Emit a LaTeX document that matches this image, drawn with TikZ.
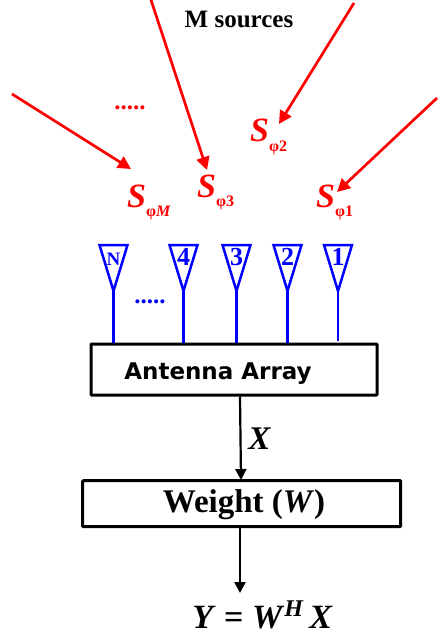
\documentclass[tikz,border=0pt]{standalone}
\usepackage{fontspec}
\setmainfont{Liberation Serif}
\newfontfamily\boxfont{DejaVu Sans}
\usetikzlibrary{arrows.meta}
\newcommand{\srclabel}[1]{\fontsize{34}{34}\selectfont\textbf{\textit{S}}\raisebox{-9.5pt}{\fontsize{16}{16}\selectfont\textbf{φ#1}}}
\tikzset{
  source/.style={draw=red,line width=2.7pt,-{Triangle[length=13pt,width=13pt]}},
  element/.style={draw=blue,line width=2.5pt,line join=miter},
  block/.style={draw,line width=3pt,rounded corners=0.8pt,inner sep=0pt},
  signal/.style={draw,line width=2.2pt,-{Triangle[length=11pt,width=11pt]}},
  lbl/.style={inner sep=0pt,anchor=base}
}
\begin{document}
\begin{tikzpicture}[x=1pt,y=-1pt]
  \useasboundingbox (0,0) rectangle (438,639);

  \node[lbl,font=\bfseries\fontsize{25}{25}\selectfont] (title) at (239,28) {M sources};

  \node[lbl,anchor=base west,text=red] (s1) at (316,207) {\srclabel{1}};
  \node[lbl,anchor=base west,text=red] (s2) at (250,142) {\srclabel{2}};
  \node[lbl,anchor=base west,text=red] (s3) at (197,197) {\srclabel{3}};
  \node[lbl,anchor=base west,text=red] (sM) at (127,207) {\srclabel{\textit{M}}};
  \node[lbl,text=red,font=\bfseries\fontsize{25}{25}\selectfont] (rdots) at (130,110) {.....};

  \coordinate (from1) at (437,98);
  \coordinate (to1) at (337,192);
  \coordinate (from2) at (354,3);
  \coordinate (to2) at (279,124);
  \coordinate (from3) at (151,0);
  \coordinate (to3) at (207,170);
  \coordinate (fromM) at (12,94);
  \coordinate (toM) at (131,169);

  \draw[source] (from1) -- (to1);
  \draw[source] (from2) -- (to2);
  \draw[source] (from3) -- (to3);
  \draw[source] (fromM) -- (toM);

  \node[block,minimum width=286pt,minimum height=51pt] (array) at (234,369.5) {};
  \node[lbl,font=\boxfont\bfseries\fontsize{23}{23}\selectfont] (arraytxt) at (218,379) {Antenna Array};

  \foreach \x/\lab/\size in {113.5/N/19,183.5/4/26,236.5/3/26,287.5/2/26,338/1/26}{
    \node[lbl,text=blue,font=\bfseries\fontsize{\size}{\size}\selectfont] (ant\lab) at (\x,265.5) {\lab};
    \coordinate (left\lab) at (\x-14,245);
    \coordinate (right\lab) at (\x+14,245);
    \coordinate (tip\lab) at (\x,291);
    \draw[element] (left\lab) -- (right\lab) -- (tip\lab) -- cycle;
  }
  \coordinate (foot1) at (338,341);
  \draw[element] (tipN) -- (tipN |- array.north);
  \draw[element] (tip4) -- (tip4 |- array.north);
  \draw[element] (tip3) -- (tip3 |- array.north);
  \draw[element] (tip2) -- (tip2 |- array.north);
  \draw[element] (tip1) -- (foot1);
  \node[lbl,text=blue,font=\bfseries\fontsize{25}{25}\selectfont] (bdots) at (150,303) {.....};

  \node[block,minimum width=318pt,minimum height=46pt] (weight) at (241.7,503.7) {};
  \node[lbl,font=\bfseries\fontsize{33}{33}\selectfont] (weighttxt) at (244,512) {Weight (\textit{W})};
  \node[lbl,font=\bfseries\itshape\fontsize{33}{33}\selectfont] (xlab) at (259.5,449) {X};
  \coordinate (out) at (240,593);
  \coordinate (in) at (241,480);
  \node[lbl,font=\bfseries\fontsize{34}{34}\selectfont] (eq) at (262.5,628) {\textit{Y} = \textit{W}\raisebox{12pt}{\fontsize{24}{24}\selectfont\textit{H}}\,\textit{X}};

  \draw[signal] (array.south -| out) -- (in);
  \draw[signal] (weight.south -| out) -- (out);
\end{tikzpicture}
\end{document}
